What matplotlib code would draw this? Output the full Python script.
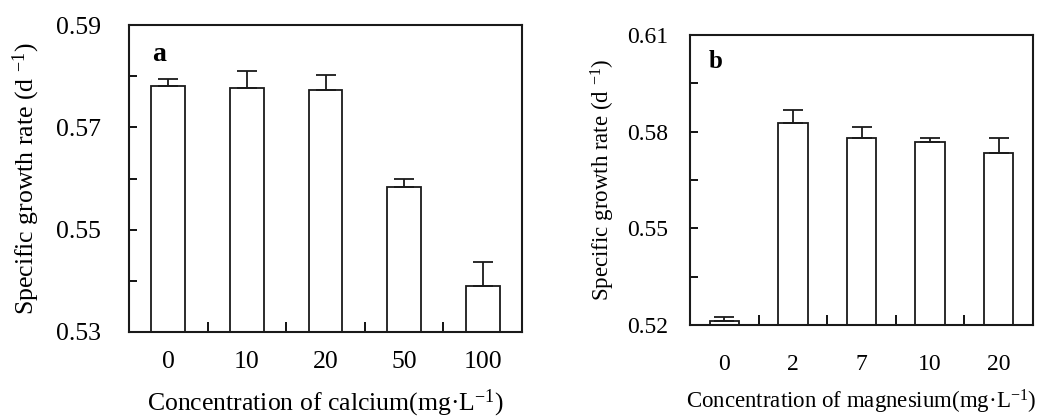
import matplotlib
matplotlib.use("Agg")
import matplotlib.pyplot as plt
import numpy as np

# Panel a: calcium
ca_labels = ["0", "10", "20", "50", "100"]
ca_values = [0.5781, 0.5776, 0.5772, 0.5583, 0.5390]
ca_errors = [0.0013, 0.0035, 0.0031, 0.0017, 0.0047]

# Panel b: magnesium
mg_labels = ["0", "2", "7", "10", "20"]
mg_values = [0.5212, 0.5826, 0.5781, 0.5767, 0.5734]
mg_errors = [0.0014, 0.0040, 0.0032, 0.0014, 0.0047]

plt.rcParams['font.family'] = ['Liberation Serif', 'DejaVu Serif']
plt.rcParams['mathtext.fontset'] = 'custom'
plt.rcParams['mathtext.rm'] = 'Liberation Serif'
plt.rcParams['mathtext.it'] = 'Liberation Serif:italic'
plt.rcParams['mathtext.bf'] = 'Liberation Serif:bold'

fig = plt.figure(figsize=(10.39, 4.18), dpi=100)
axa = fig.add_axes([129/1039, 1-332/418, 393/1039, 307/418])
axb = fig.add_axes([690/1039, 1-325/418, 343/1039, 290/418])


def draw(ax, labels, values, errors, ylim, major, minor, fs_tick, fs_lab, padx, pady,
         xlabel, xlabelpad, letter, letter_pos, fs_letter):
    x = np.arange(len(labels))
    base = ylim[0]
    heights = [v - base for v in values]
    ax.bar(x, heights, bottom=base, width=0.43, color='white', edgecolor='#1a1a1a',
           linewidth=1.3, zorder=2)
    ax.errorbar(x, values, yerr=[np.zeros(len(errors)), errors], fmt='none',
                ecolor='#1a1a1a', elinewidth=1.3, capsize=7.5, capthick=1.3, zorder=3)
    ax.set_xlim(-0.5, len(labels) - 0.5)
    ax.set_ylim(*ylim)
    ax.set_yticks(major)
    ax.set_yticks(minor, minor=True)
    ax.set_yticklabels([f"{t:.2f}" for t in major])
    ax.set_xticks(x)
    ax.set_xticklabels(labels)
    ax.set_xticks(x[:-1] + 0.5, minor=True)
    ax.tick_params(axis='x', which='major', length=0, pad=padx, labelsize=fs_tick)
    ax.tick_params(axis='x', which='minor', direction='in', length=7, width=1.3)
    ax.tick_params(axis='y', which='both', direction='in', length=6, width=1.3,
                   pad=pady, labelsize=fs_tick)
    for s in ax.spines.values():
        s.set_linewidth(1.5)
        s.set_color('#1a1a1a')
    ax.set_xlabel(xlabel, fontsize=fs_lab, labelpad=xlabelpad)
    ax.set_ylabel("Specific growth rate (d $^{-1}$)", fontsize=fs_lab)
    ax.text(letter_pos[0], letter_pos[1], letter, transform=ax.transAxes,
            fontsize=fs_letter, fontweight='bold', va='center', ha='left')


draw(axa, ca_labels, ca_values, ca_errors, (0.53, 0.59),
     [0.53, 0.55, 0.57, 0.59], [0.54, 0.56, 0.58], 18.5, 18.5, 14, 20,
     "Concentration of calcium(mg·L$^{-1}$)", 10, "a", (0.06, 0.905), 20)
draw(axb, mg_labels, mg_values, mg_errors, (0.52, 0.61),
     [0.52, 0.55, 0.58, 0.61], [0.535, 0.565, 0.595], 17, 16.5, 21, 16,
     "Concentration of magnesium(mg·L$^{-1}$)", 9, "b", (0.055, 0.91), 18)

axa.yaxis.set_label_coords(-0.221, 0.5)
axb.yaxis.set_label_coords(-0.213, 0.5)

fig.savefig("out.png", dpi=100)
